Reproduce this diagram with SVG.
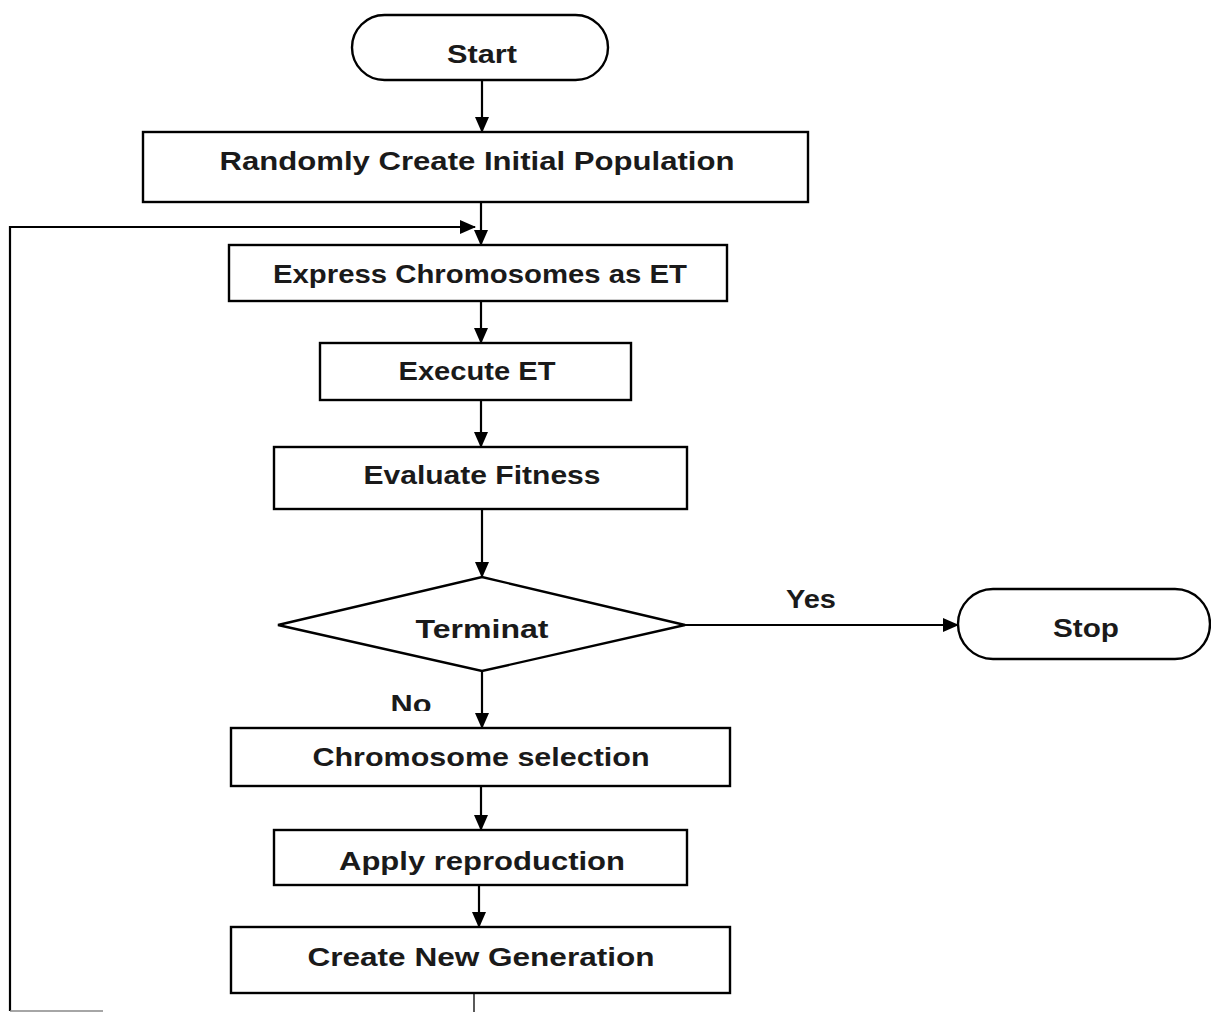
<svg xmlns="http://www.w3.org/2000/svg" width="1211" height="1012" viewBox="0 0 1211 1012">
<style>
.box{fill:#fff;stroke:#000;stroke-width:2.4}
.t{font-family:"Liberation Sans",Arial,sans-serif;font-weight:bold;font-size:25px;fill:#1a1a1a;text-anchor:middle}
.c{fill:none;stroke:#000;stroke-width:2.2}
.thin{fill:none;stroke:#000;stroke-width:1.3}
</style>
<defs>
<marker id="ah" viewBox="0 0 16 14" refX="15" refY="7" markerWidth="16" markerHeight="14" markerUnits="userSpaceOnUse" orient="auto">
<path d="M0,0 L16,7 L0,14 Z" fill="#000"/>
</marker>
<clipPath id="clipStart"><rect x="0" y="0" width="1211" height="63"/></clipPath>
<clipPath id="clipNo"><rect x="0" y="680" width="1211" height="31"/></clipPath>
</defs>
<rect width="1211" height="1012" fill="#fff"/>
<g id="connectors">
<line class="c" x1="482" y1="80" x2="482" y2="132" marker-end="url(#ah)"/>
<line class="c" x1="481" y1="202" x2="481" y2="245" marker-end="url(#ah)"/>
<polyline class="c" points="10,1011 10,227 475,227" marker-end="url(#ah)"/>
<line class="c" x1="481" y1="301" x2="481" y2="343" marker-end="url(#ah)"/>
<line class="c" x1="481" y1="400" x2="481" y2="447" marker-end="url(#ah)"/>
<line class="c" x1="482" y1="509" x2="482" y2="577" marker-end="url(#ah)"/>
<line class="c" x1="685" y1="625" x2="958" y2="625" marker-end="url(#ah)"/>
<line class="c" x1="482" y1="671" x2="482" y2="728" marker-end="url(#ah)"/>
<line class="c" x1="481" y1="786" x2="481" y2="830" marker-end="url(#ah)"/>
<line class="c" x1="479" y1="885" x2="479" y2="927" marker-end="url(#ah)"/>
<line class="thin" x1="474" y1="993" x2="474" y2="1012"/>
<line x1="10" y1="1011" x2="103" y2="1011" stroke="#888" stroke-width="1.5"/>
<text class="t" x="811" y="608" textLength="50" lengthAdjust="spacingAndGlyphs">Yes</text>
<text class="t" x="411" y="713" textLength="41" lengthAdjust="spacingAndGlyphs" clip-path="url(#clipNo)">No</text>
</g>
<g id="start">
<rect class="box" x="352" y="15" width="256" height="65" rx="32.5"/>
<text class="t" x="482" y="63" textLength="70" lengthAdjust="spacingAndGlyphs" clip-path="url(#clipStart)">Start</text>
</g>
<g id="init">
<rect class="box" x="143" y="132" width="665" height="70"/>
<text class="t" x="477" y="170" textLength="515" lengthAdjust="spacingAndGlyphs">Randomly Create Initial Population</text>
</g>
<g id="express">
<rect class="box" x="229" y="245" width="498" height="56"/>
<text class="t" x="480" y="283" textLength="414" lengthAdjust="spacingAndGlyphs">Express Chromosomes as ET</text>
</g>
<g id="execute">
<rect class="box" x="320" y="343" width="311" height="57"/>
<text class="t" x="477" y="380" textLength="157" lengthAdjust="spacingAndGlyphs">Execute ET</text>
</g>
<g id="evaluate">
<rect class="box" x="274" y="447" width="413" height="62"/>
<text class="t" x="482" y="484" textLength="237" lengthAdjust="spacingAndGlyphs">Evaluate Fitness</text>
</g>
<g id="terminate">
<polygon class="box" points="278,625 482,577 685,625 482,671"/>
<text class="t" x="482" y="638" textLength="133" lengthAdjust="spacingAndGlyphs">Terminat</text>
</g>
<g id="stop">
<rect class="box" x="958" y="589" width="252" height="70" rx="35"/>
<text class="t" x="1086" y="637" textLength="66" lengthAdjust="spacingAndGlyphs">Stop</text>
</g>
<g id="selection">
<rect class="box" x="231" y="728" width="499" height="58"/>
<text class="t" x="481" y="766" textLength="337" lengthAdjust="spacingAndGlyphs">Chromosome selection</text>
</g>
<g id="reproduction">
<rect class="box" x="274" y="830" width="413" height="55"/>
<text class="t" x="482" y="870" textLength="286" lengthAdjust="spacingAndGlyphs">Apply reproduction</text>
</g>
<g id="newgen">
<rect class="box" x="231" y="927" width="499" height="66"/>
<text class="t" x="481" y="966" textLength="347" lengthAdjust="spacingAndGlyphs">Create New Generation</text>
</g>
</svg>
